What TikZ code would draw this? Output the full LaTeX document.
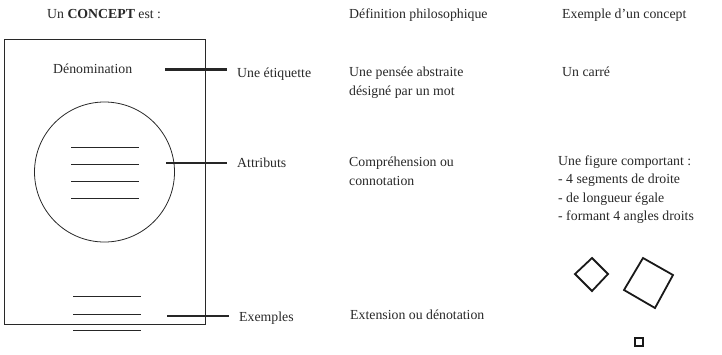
\documentclass[tikz,border=0pt]{standalone}
\usepackage{fontspec}
\setmainfont{Liberation Serif}
\definecolor{txt}{RGB}{40,40,40}
\begin{document}
\begin{tikzpicture}[x=1pt,y=-1pt,
  lab/.style={anchor=base west,inner sep=0pt,text=txt,font=\fontsize{13.8}{19}\selectfont},
  labm/.style={lab,align=left},
  frameline/.style={line width=0.8pt,draw=txt},
  connline/.style={line width=2.2pt,draw=black!85},
  sqline/.style={line width=1.8pt,draw=black!90}]
\useasboundingbox (0,0) rectangle (722,354);
% headers
\node[lab] (h1) at (47,18) {Un \textbf{CONCEPT} est :};
\node[lab] (h2) at (349,18) {Définition philosophique};
\node[lab] (h3) at (562,18) {Exemple d’un concept};
% box
\draw[frameline] (4,39) rectangle (205,324);
\node[lab] (denom) at (53,73) {Dénomination};
\draw[frameline] (104.5,172) circle (70);
\foreach \y in {147,164,181,198} \draw[line width=0.9pt,draw=black!85] (71,\y) -- (139,\y);
\foreach \y in {296,314,330} \draw[line width=0.9pt,draw=black!85] (73,\y) -- (141,\y);
% connectors
\coordinate (c1a) at (165,69.5); \coordinate (c1b) at (227,69.5);
\coordinate (c2a) at (166,163); \coordinate (c2b) at (227,163);
\coordinate (c3a) at (167,316); \coordinate (c3b) at (229,316);
\draw[connline] (c1a) -- (c1b);
\draw[connline] (c2a) -- (c2b);
\draw[connline] (c3a) -- (c3b);
% column 2
\node[lab] (etiq) at (237,77) {Une étiquette};
\node[lab] (attr) at (237,167) {Attributs};
\node[lab] (expl) at (239,321) {Exemples};
% column 3 (base anchor = last line)
\node[labm] (pens) at (349,95) {Une pensée abstraite\\désigné par un mot};
\node[labm] (comp) at (349,185) {Compréhension ou\\connotation};
\node[lab] (ext) at (350,319) {Extension ou dénotation};
% column 4
\node[lab] (carre) at (562,76) {Un carré};
\node[labm,font=\fontsize{13.8}{18.5}\selectfont] (fig) at (558,220.5) {Une figure comportant :\\- 4 segments de droite\\- de longueur égale\\- formant 4 angles droits};
% squares
\draw[sqline,line join=miter] (575,274) -- (592,258) -- (608,274) -- (592,291) -- cycle;
\draw[sqline,line join=miter] (624,290) -- (643,258) -- (673,275) -- (655,308) -- cycle;
\draw[sqline] (635,338) rectangle (643,346);
\end{tikzpicture}
\end{document}
